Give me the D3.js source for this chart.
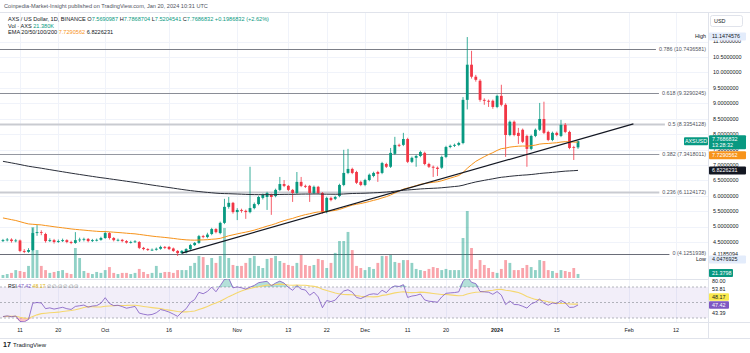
<!DOCTYPE html>
<html>
<head>
<meta charset="utf-8">
<script src="https://cdn.jsdelivr.net/npm/d3@7"></script>
<style>
  body { margin: 0; background: #fff; }
  svg { display: block; font-family: "Liberation Sans", Arial, sans-serif; }
</style>
</head>
<body>
<script>
const width = 750;
const height = 353;

// daily candles, AXS/USD, starting 2023-09-07
const firstDay = new Date(2023, 8, 7);
const open = [
  4.53,4.56,4.58,4.53,4.55,4.21,4.18,4.24,4.79,4.82,
  4.76,4.53,4.56,4.50,4.53,4.56,4.50,4.47,4.56,4.58,
  4.60,4.53,4.56,4.57,4.63,4.79,4.63,4.56,4.57,4.53,
  4.48,4.50,4.50,4.31,4.27,4.24,4.25,4.28,4.34,4.34,
  4.29,4.21,4.14,4.16,4.27,4.40,4.47,4.69,4.66,4.76,
  4.92,4.79,5.12,5.64,5.77,5.47,5.54,5.51,5.47,5.60,
  5.73,5.93,5.96,6.03,5.99,6.19,6.38,6.32,6.19,6.09,
  6.45,6.32,6.32,6.09,6.29,6.09,5.47,5.93,5.90,5.99,
  6.35,6.74,6.87,6.77,6.45,6.35,6.51,6.64,6.77,6.74,
  7.03,6.94,7.36,7.65,7.65,7.84,7.10,7.23,7.29,7.39,
  7.03,6.94,6.91,6.91,7.26,7.58,7.62,7.65,7.71,9.11,
  10.25,9.86,9.73,9.11,9.08,9.08,8.88,9.24,8.95,7.97,
  8.40,8.04,8.14,7.94,7.52,7.94,8.14,8.49,8.07,7.81,
  8.04,7.94,8.30,8.07,7.58,7.5690987
];
const high = [
  4.60,4.63,4.62,4.60,4.58,4.27,4.30,4.95,5.05,4.88,
  4.80,4.62,4.60,4.58,4.61,4.59,4.54,4.82,4.64,4.64,
  4.63,4.60,4.61,4.67,4.86,4.82,4.66,4.61,4.60,4.56,
  4.54,4.56,4.53,4.34,4.30,4.29,4.32,4.38,4.37,4.37,
  4.32,4.24,4.24,4.30,4.44,4.50,4.73,4.73,4.80,4.96,
  4.95,5.16,5.90,5.96,5.80,5.60,5.58,5.55,6.94,5.78,
  6.00,6.07,6.13,6.07,6.23,6.61,6.51,6.35,6.22,6.77,
  6.61,6.36,6.35,6.33,6.32,6.12,5.97,5.97,6.00,6.39,
  7.49,7.52,6.91,6.81,6.49,6.55,6.72,6.78,6.81,7.10,
  7.07,7.55,7.91,7.69,8.04,7.88,7.27,7.33,7.46,7.43,
  7.07,6.98,6.95,7.30,7.62,7.66,7.69,7.75,9.20,11.1474576,
  10.70,9.92,9.78,9.16,9.12,9.12,9.28,9.60,9.00,8.44,
  8.44,8.20,8.18,7.98,7.98,8.18,9.01,9.05,8.11,8.08,
  8.08,8.46,8.36,8.11,7.62,7.7868704
];
const low = [
  4.50,4.52,4.48,4.49,4.17,4.14,4.15,4.20,4.70,4.72,
  4.48,4.50,4.45,4.47,4.50,4.46,4.43,4.44,4.50,4.52,
  4.49,4.50,4.52,4.54,4.60,4.58,4.52,4.52,4.49,4.45,
  4.45,4.47,4.27,4.23,4.21,4.21,4.22,4.25,4.27,4.24,
  4.18,4.0476925,4.10,4.13,4.24,4.37,4.44,4.62,4.62,4.72,
  4.78,4.75,5.08,5.58,5.42,5.21,5.45,5.25,5.43,5.56,
  5.69,5.88,5.54,5.38,5.95,6.15,6.28,6.15,5.80,6.05,
  6.28,6.25,5.80,6.05,6.05,5.42,5.43,5.82,5.86,5.95,
  6.31,6.70,6.70,6.38,6.31,6.31,6.47,6.60,6.45,6.70,
  6.90,6.90,7.32,7.58,7.61,7.06,7.06,6.94,7.25,6.99,
  6.90,6.61,6.64,6.87,7.22,7.54,7.58,7.61,7.67,8.80,
  9.80,9.70,9.05,8.95,8.88,8.82,8.84,8.90,7.26,7.93,
  7.93,7.68,7.71,6.94,7.48,7.90,8.10,8.00,7.77,7.77,
  7.93,7.90,8.03,7.51,7.16,7.5204541
];
const close = [
  4.56,4.58,4.53,4.55,4.21,4.18,4.24,4.79,4.82,4.80,
  4.53,4.56,4.50,4.53,4.56,4.50,4.47,4.56,4.58,4.60,
  4.53,4.56,4.57,4.63,4.79,4.63,4.56,4.57,4.53,4.48,
  4.50,4.52,4.31,4.27,4.24,4.25,4.28,4.34,4.31,4.27,
  4.21,4.14,4.21,4.27,4.40,4.47,4.69,4.66,4.74,4.92,
  4.82,5.12,5.64,5.77,5.47,5.54,5.51,5.47,5.60,5.73,
  5.96,6.03,6.09,5.96,6.19,6.38,6.32,6.19,6.09,6.45,
  6.32,6.29,6.09,6.29,6.09,5.47,5.93,5.86,5.96,6.35,
  6.74,6.87,6.74,6.42,6.35,6.51,6.68,6.74,6.71,7.06,
  6.94,7.39,7.65,7.62,7.84,7.10,7.23,7.29,7.42,7.03,
  6.94,6.91,6.87,7.26,7.58,7.62,7.65,7.71,9.11,10.25,
  9.86,9.76,9.11,9.08,9.05,8.88,9.24,8.95,7.97,8.40,
  7.97,7.94,7.75,7.52,7.94,8.14,8.49,8.04,7.81,8.04,
  7.97,8.30,8.07,7.55,7.57,7.7686832
];
// volume in thousands of AXS
const volume = [
  16,21,27,42,37,32,64,270,148,64,
  42,27,32,37,42,27,21,159,106,37,
  27,21,32,27,42,58,27,21,27,27,
  21,27,48,32,21,27,64,27,32,32,
  27,42,42,42,64,80,117,111,69,106,
  80,117,265,106,69,64,64,80,106,117,
  64,53,101,106,117,90,80,69,64,80,
  122,69,64,69,101,95,53,80,133,196,
  196,244,148,64,53,42,58,48,80,117,
  117,122,85,80,95,95,80,48,42,37,
  48,58,53,42,48,42,42,42,212,355,
  159,48,95,69,53,32,27,48,95,80,
  42,42,53,69,58,42,95,90,42,37,
  27,42,37,32,53,21.3798
];

const tickDates = ['2023-09-11','2023-09-20','2023-10-01','2023-10-16','2023-11-01','2023-11-13',
  '2023-11-22','2023-12-01','2023-12-11','2023-12-20','2024-01-01','2024-01-15','2024-02-01','2024-02-12'];
const tickLabels = ['11','20','Oct','16','Nov','13','22','Dec','11','20','2024','15','Feb','12'];
const priceTicks = [4.5,5,5.5,6,6.5,7,7.5,8,8.5,9,9.5,10,10.5,11];

const fibLow = 4.1251938;
const fibHigh = 12.5456318;
const fibRatios = [0, 0.236, 0.382, 0.5, 0.618, 0.786];

const trendPoints = [
  { date: '2023-10-19', price: 4.14 },
  { date: '2024-02-02', price: 8.33 }
];

// values printed by the chart for the last bar
const emaLast = [7.7290562, 6.8226231];
const rsiLast = [47.42, 48.17];
const rsiAxisTicks = [80, 53.81, 43.39];
const fibZeroAxis = 4.1185094;
const countdown = '13:28:32';

// EMA values carried in from before the visible window
const ema50Start = 5.28;
const ema200Start = 7.116;
const rsiGainStart = 0.035;
const rsiLossStart = 0.075;

const parseDay = d3.timeParse('%Y-%m-%d');
const dates = close.map((_, i) => d3.timeDay.offset(firstDay, i));
const candles = dates.map((d, i) => ({ date: d, o: open[i], h: high[i], l: low[i], c: close[i], v: volume[i] }));

const emaSeries = (start, n) => {
  const k = 2 / (n + 1);
  let e = start;
  return close.map((c, i) => (e = i === 0 ? start : e + k * (c - e)));
};
const ema50 = emaSeries(ema50Start, 50);
const ema200 = emaSeries(ema200Start, 200);

// RSI 14 (Wilder) and its 14 SMA
let ag = rsiGainStart, al = rsiLossStart;
const rsi = close.map((c, i) => {
  if (i > 0) {
    const ch = c - close[i - 1];
    ag = (ag * 13 + Math.max(ch, 0)) / 14;
    al = (al * 13 + Math.max(-ch, 0)) / 14;
  }
  return 100 - 100 / (1 + ag / al);
});
const rsiMa = rsi.map((_, i) => d3.mean(rsi.slice(Math.max(0, i - 13), i + 1)));

// layout
const paneRight = 708;
const mainTop = 13, mainBottom = 279, axisTop = 322, frameBottom = 338;
const upColor = '#089981', downColor = '#f23645', emaColor = '#f7931a';
const font = 5.4;

const x = d3.scaleTime()
  .domain([parseDay('2023-09-11'), parseDay('2024-02-12')])
  .range([20, 676]);
const y = d3.scaleLinear().domain([4.5, 10.5]).range([242, 57]);
const yv = d3.scaleLinear().domain([0, 355]).range([278, 211]);
const yr = d3.scaleLinear().domain([30, 70]).range([318, 287]);

const svg = d3.select('body').append('svg')
  .attr('width', width)
  .attr('height', height);

svg.append('rect').attr('width', width).attr('height', height).attr('fill', '#fff');

const defs = svg.append('defs');
defs.append('clipPath').attr('id', 'mainClip')
  .append('rect').attr('x', 0).attr('y', mainTop).attr('width', paneRight).attr('height', mainBottom - mainTop);
defs.append('clipPath').attr('id', 'rsiClip')
  .append('rect').attr('x', 0).attr('y', mainBottom).attr('width', paneRight).attr('height', axisTop - mainBottom);

// grid
svg.append('g').selectAll('line')
  .data(tickDates)
  .join('line')
  .attr('x1', d => Math.round(x(parseDay(d))) + 0.5)
  .attr('x2', d => Math.round(x(parseDay(d))) + 0.5)
  .attr('y1', mainTop).attr('y2', axisTop)
  .attr('stroke', '#f0f3fa');
svg.append('g').selectAll('line')
  .data(priceTicks)
  .join('line')
  .attr('x1', 0).attr('x2', paneRight)
  .attr('y1', d => Math.round(y(d)) + 0.5)
  .attr('y2', d => Math.round(y(d)) + 0.5)
  .attr('stroke', '#f0f3fa');

// frame lines
svg.append('line').attr('x1', 0).attr('x2', width).attr('y1', 12.5).attr('y2', 12.5).attr('stroke', '#e0e3eb');
svg.append('line').attr('x1', 0).attr('x2', width).attr('y1', frameBottom + 0.5).attr('y2', frameBottom + 0.5).attr('stroke', '#e0e3eb');
svg.append('line').attr('x1', 0).attr('x2', paneRight).attr('y1', mainBottom + 0.5).attr('y2', mainBottom + 0.5).attr('stroke', '#e0e3eb');
svg.append('line').attr('x1', 0).attr('x2', width).attr('y1', axisTop + 0.5).attr('y2', axisTop + 0.5).attr('stroke', '#e0e3eb');
svg.append('line').attr('x1', paneRight + 0.5).attr('x2', paneRight + 0.5).attr('y1', mainTop).attr('y2', frameBottom).attr('stroke', '#e0e3eb');

const main = svg.append('g').attr('clip-path', 'url(#mainClip)');

// fibonacci levels
const fibStyle = {
  0: { stroke: '#6a6d78', w: 1 },
  0.236: { stroke: '#c9cbd1', w: 2 },
  0.382: { stroke: '#9598a1', w: 1 },
  0.5: { stroke: '#c9cbd1', w: 2 },
  0.618: { stroke: '#8a8d96', w: 1 },
  0.786: { stroke: '#7b7e87', w: 1 }
};
const fib = main.append('g').selectAll('g')
  .data(fibRatios.map(r => ({ r, price: fibLow + r * (fibHigh - fibLow) })))
  .join('g');
fib.append('text')
  .attr('x', 706)
  .attr('y', d => y(d.price) + 1.9)
  .attr('text-anchor', 'end')
  .attr('font-size', font)
  .attr('fill', '#50535e')
  .text(d => `${d.r} (${d.price.toFixed(7)})`);
fib.each(function (d) {
  const g = d3.select(this);
  const tw = g.select('text').node().getComputedTextLength();
  g.insert('line', 'text')
    .attr('x1', 0).attr('x2', 706 - tw - 3)
    .attr('y1', Math.round(y(d.price)) + 0.5)
    .attr('y2', Math.round(y(d.price)) + 0.5)
    .attr('stroke', fibStyle[d.r].stroke)
    .attr('stroke-width', fibStyle[d.r].w);
});

// volume
const bw = 2.8;
main.append('g').selectAll('rect')
  .data(candles)
  .join('rect')
  .attr('x', d => x(d.date) - bw / 2)
  .attr('width', bw)
  .attr('y', d => yv(d.v))
  .attr('height', d => yv(0) - yv(d.v))
  .attr('fill', d => d.c >= d.o ? upColor : downColor)
  .attr('fill-opacity', 0.45);

// candles
const cg = main.append('g').selectAll('g')
  .data(candles)
  .join('g')
  .attr('fill', d => d.c >= d.o ? upColor : downColor)
  .attr('stroke', d => d.c >= d.o ? upColor : downColor);
cg.append('line')
  .attr('x1', d => x(d.date)).attr('x2', d => x(d.date))
  .attr('y1', d => y(d.h)).attr('y2', d => y(d.l))
  .attr('stroke-width', 0.8);
cg.append('rect')
  .attr('x', d => x(d.date) - bw / 2)
  .attr('width', bw)
  .attr('y', d => y(Math.max(d.o, d.c)))
  .attr('height', d => Math.max(0.8, Math.abs(y(d.o) - y(d.c))))
  .attr('stroke', 'none');

// moving averages and trend line
const lineOf = arr => d3.line().x((_, i) => x(dates[i])).y(v => y(v))(arr);
main.append('path').attr('d', lineOf(ema200)).attr('fill', 'none').attr('stroke', '#2a2e39').attr('stroke-width', 1);
main.append('path').attr('d', lineOf(ema50)).attr('fill', 'none').attr('stroke', emaColor).attr('stroke-width', 1);
main.append('path')
  .attr('d', d3.line().x(d => x(parseDay(d.date))).y(d => y(d.price))(trendPoints))
  .attr('fill', 'none').attr('stroke', '#131722').attr('stroke-width', 1.2);

// RSI pane
const rsiG = svg.append('g').attr('clip-path', 'url(#rsiClip)');
rsiG.append('rect')
  .attr('x', 0).attr('width', paneRight)
  .attr('y', yr(70)).attr('height', yr(30) - yr(70))
  .attr('fill', '#7e57c2').attr('fill-opacity', 0.1);
rsiG.append('g').selectAll('line')
  .data([70, 50, 30])
  .join('line')
  .attr('x1', 0).attr('x2', paneRight)
  .attr('y1', d => yr(d)).attr('y2', d => yr(d))
  .attr('stroke', '#9598a1').attr('stroke-width', 0.7)
  .attr('stroke-dasharray', '2,2');
rsiG.append('path')
  .attr('d', d3.area().x((_, i) => x(dates[i])).y0(yr(70)).y1(v => yr(Math.max(v, 70)))(rsi))
  .attr('fill', upColor).attr('fill-opacity', 0.3);
rsiG.append('path')
  .attr('d', d3.area().x((_, i) => x(dates[i])).y0(yr(30)).y1(v => yr(Math.min(v, 30)))(rsi))
  .attr('fill', downColor).attr('fill-opacity', 0.3);
rsiG.append('path')
  .attr('d', d3.line().x((_, i) => x(dates[i])).y(v => yr(v))(rsiMa))
  .attr('fill', 'none').attr('stroke', '#f5d76e').attr('stroke-width', 1.1);
rsiG.append('path')
  .attr('d', d3.line().x((_, i) => x(dates[i])).y(v => yr(v))(rsi))
  .attr('fill', 'none').attr('stroke', '#7e57c2').attr('stroke-width', 0.8);

// time axis labels
svg.append('g').selectAll('text')
  .data(tickDates)
  .join('text')
  .attr('x', d => x(parseDay(d)))
  .attr('y', 332)
  .attr('text-anchor', 'middle')
  .attr('font-size', font)
  .attr('font-weight', (d, i) => tickLabels[i] === '2024' ? 'bold' : null)
  .attr('fill', '#131722')
  .text((d, i) => tickLabels[i]);

// price axis labels
svg.append('g').selectAll('text')
  .data(priceTicks)
  .join('text')
  .attr('x', 713)
  .attr('y', d => y(d) + 1.9)
  .attr('font-size', font)
  .attr('fill', '#131722')
  .text(d => d.toFixed(7));

// price axis tags
const tag = (cy, h, fill, lines, textColor, x0 = 709, w = 37) => {
  svg.append('rect').attr('x', x0).attr('y', cy - h / 2).attr('width', w).attr('height', h)
    .attr('rx', 1).attr('fill', fill);
  lines.forEach((t, i) => {
    svg.append('text').attr('x', x0 + 3).attr('y', cy - h / 2 + 5.6 + i * 6)
      .attr('font-size', font).attr('fill', textColor).text(t);
  });
};
const last = candles[candles.length - 1];

// fib 0 price marker and high / low
svg.append('text').attr('x', 713).attr('y', y(fibZeroAxis) + 1.9)
  .attr('font-size', font).attr('fill', '#131722').text(fibZeroAxis.toFixed(7));
const hi = d3.max(high), lo = d3.min(low);
tag(y(hi) - 0.5, 8, '#e3ecfb', [hi.toFixed(7)], '#131722');
svg.append('text').attr('x', 706).attr('y', y(hi) + 1.4).attr('text-anchor', 'end')
  .attr('font-size', font).attr('fill', '#131722').text('High');
const loY = y(lo) + 3.5;
tag(loY, 8, '#e3ecfb', [lo.toFixed(7)], '#131722');
svg.append('text').attr('x', 706).attr('y', loY + 1.9).attr('text-anchor', 'end')
  .attr('font-size', font).attr('fill', '#131722').text('Low');

const closeY = y(last.c);
tag(closeY + 1, 14, upColor, [last.c.toFixed(7), countdown], '#fff');
svg.append('rect').attr('x', 684).attr('y', closeY - 4).attr('width', 24).attr('height', 8)
  .attr('rx', 1).attr('fill', upColor);
svg.append('text').attr('x', 696).attr('y', closeY + 1.9).attr('text-anchor', 'middle')
  .attr('font-size', font).attr('fill', '#fff').text('AXSUSD');
tag(Math.max(y(emaLast[0]), closeY + 14), 8, emaColor, [emaLast[0].toFixed(7)], '#fff');
tag(y(emaLast[1]), 8, '#131722', [emaLast[1].toFixed(7)], '#fff');

// RSI axis labels, stacked from the pane top
const rsiLabels = [
  { v: rsiAxisTicks[0], fill: null, color: '#131722' },
  { v: rsiAxisTicks[1], fill: null, color: '#131722' },
  { v: rsiLast[1], fill: '#f9e94e', color: '#131722' },
  { v: rsiLast[0], fill: '#7e57c2', color: '#fff' },
  { v: rsiAxisTicks[2], fill: null, color: '#131722' }
];
rsiLabels.forEach((d, i) => {
  const cy = 281 + i * 8;
  if (d.fill) tag(cy, 7.5, d.fill, [d.v.toFixed(2)], d.color, 709, 20);
  else svg.append('text').attr('x', 712).attr('y', cy + 1.9).attr('font-size', font)
    .attr('fill', d.color).text(d.v.toFixed(2));
});

// volume tag
tag(273, 8, upColor, [last.v.toFixed(4)], '#fff', 709, 24);

// USD button
svg.append('rect').attr('x', 710.5).attr('y', 15.5).attr('width', 32).attr('height', 11)
  .attr('rx', 2).attr('fill', '#fff').attr('stroke', '#e0e3eb');
svg.append('text').attr('x', 714).attr('y', 22.5).attr('font-size', font).attr('fill', '#131722').text('USD');

// header and legends
svg.append('text').attr('x', 4).attr('y', 8).attr('font-size', 5.6).attr('fill', '#50535e')
  .text('Coinpedia-Market-Insight published on TradingView.com, Jan 20, 2024 10:31 UTC');

const prevClose = close[close.length - 2];
const chg = last.c - prevClose;
const leg1 = svg.append('text').attr('x', 8).attr('y', 21).attr('font-size', 5.6).attr('fill', '#131722');
leg1.append('tspan').text('AXS / US Dollar, 1D, BINANCE  ');
[['O', last.o], ['H', last.h], ['L', last.l], ['C', last.c]].forEach(([k, v]) => {
  leg1.append('tspan').text(' ' + k);
  leg1.append('tspan').attr('fill', upColor).text(v.toFixed(7));
});
leg1.append('tspan').attr('fill', upColor)
  .text(`  +${chg.toFixed(7)} (+${(chg / prevClose * 100).toFixed(2)}%)`);

const leg2 = svg.append('text').attr('x', 8).attr('y', 27.5).attr('font-size', 5.6).attr('fill', '#131722');
leg2.append('tspan').text('Vol · AXS  ');
leg2.append('tspan').attr('fill', upColor).text(last.v.toFixed(3) + 'K');

const leg3 = svg.append('text').attr('x', 8).attr('y', 34).attr('font-size', 5.6).attr('fill', '#131722');
leg3.append('tspan').text('EMA 20/50/100/200  ');
leg3.append('tspan').attr('fill', emaColor).text(emaLast[0].toFixed(7));
leg3.append('tspan').attr('fill', '#131722').text('  ' + emaLast[1].toFixed(7));

const leg4 = svg.append('text').attr('x', 8).attr('y', 287.5).attr('font-size', 5.2).attr('fill', '#131722');
leg4.append('tspan').text('RSI  ');
leg4.append('tspan').attr('fill', '#7e57c2').text(rsiLast[0].toFixed(2));
leg4.append('tspan').attr('fill', '#e2b714').text('  ' + rsiLast[1].toFixed(2));
leg4.append('tspan').attr('fill', '#787b86').text('  ∅  ∅  ∅  ∅  ∅  ∅');

// footer logo
svg.append('text').attr('x', 3).attr('y', 347).attr('font-size', 7).attr('font-weight', 'bold')
  .attr('fill', '#131722').text('17');
svg.append('text').attr('x', 13).attr('y', 347).attr('font-size', 6).attr('fill', '#131722')
  .text('TradingView');
</script>
</body>
</html>
